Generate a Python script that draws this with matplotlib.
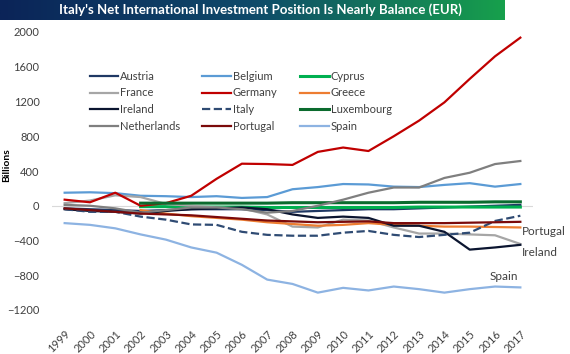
import matplotlib.pyplot as plt
import numpy as np
from matplotlib.colors import LinearSegmentedColormap

plt.rcParams['font.family'] = ['Lato', 'DejaVu Sans']

years = list(range(1999, 2018))
nan = np.nan

austria = [-30, -40, -50, -60, -50, -40, -40, -40, -50, -70, -60, -50, -40, -40, -30, -20, -10, 0, 10]
belgium = [150, 155, 145, 115, 110, 100, 110, 90, 100, 190, 215, 250, 245, 220, 215, 240, 260, 220, 250]
cyprus = [nan, nan, nan, -10, -10, -15, -15, -15, -20, -20, -20, -20, -20, -20, -15, -15, -15, -15, -15]
france = [30, 60, 120, 100, 20, 0, -20, -30, -100, -240, -250, -160, -170, -250, -320, -320, -330, -340, -440]
germany = [70, 40, 150, 0, 30, 115, 310, 484, 480, 470, 620, 670, 630, 800, 980, 1190, 1460, 1720, 1935]
greece = [nan, nan, nan, -50, -90, -120, -140, -160, -190, -210, -230, -220, -200, -220, -230, -240, -240, -245, -250]
ireland = [-40, -60, -70, -90, -60, -40, -30, -20, -40, -100, -140, -125, -140, -230, -230, -300, -505, -480, -450]
italy = [-40, -70, -70, -125, -160, -215, -220, -300, -335, -345, -345, -310, -290, -335, -360, -335, -310, -175, -115]
luxembourg = [nan, nan, nan, 30, 30, 30, 30, 30, 30, 35, 35, 35, 35, 35, 40, 40, 40, 45, 45]
netherlands = [10, 0, -30, -80, -50, -20, -20, -40, -80, -60, 0, 70, 150, 210, 210, 320, 380, 480, 515]
portugal = [-30, -50, -70, -90, -100, -110, -130, -150, -170, -180, -190, -185, -180, -200, -200, -200, -195, -190, -185]
spain = [-200, -220, -260, -330, -390, -480, -540, -680, -850, -900, -1000, -945, -975, -930, -960, -1000, -960, -930, -940]

series = [
    ('Austria', austria, '#1f3864', '-', 1.6),
    ('Belgium', belgium, '#5b9bd5', '-', 1.6),
    ('Cyprus', cyprus, '#00b050', '-', 2.2),
    ('France', france, '#a6a6a6', '-', 1.6),
    ('Germany', germany, '#c00000', '-', 1.6),
    ('Greece', greece, '#ed7d31', '-', 1.6),
    ('Ireland', ireland, '#0b1530', '-', 1.6),
    ('Italy', italy, '#2f4b73', '--', 1.6),
    ('Luxembourg', luxembourg, '#0b6b2e', '-', 2.2),
    ('Netherlands', netherlands, '#7f7f7f', '-', 1.6),
    ('Portugal', portugal, '#7b0a0a', '-', 1.6),
    ('Spain', spain, '#8db3e2', '-', 1.6),
]

fig = plt.figure(figsize=(5.7, 3.54), dpi=100)

# title bar with gradient
tax = fig.add_axes([0, 1 - 20 / 354, 505 / 570, 20 / 354])
cmap = LinearSegmentedColormap.from_list('bar', ['#0b2458', '#0f4a6a', '#17a04c'])
tax.imshow(np.linspace(0, 1, 256).reshape(1, -1), aspect='auto', cmap=cmap, extent=[0, 1, 0, 1])
tax.set_axis_off()
tax.text(0.515, 0.5, "Italy's Net International Investment Position Is Nearly Balance (EUR)",
         color='white', fontsize=9.5, fontweight='bold', ha='center', va='center')

ax = fig.add_axes([52 / 570, 1 - 310 / 354, 481 / 570, 278 / 354])
handles = {}
for name, vals, col, ls, lw in series:
    ln, = ax.plot(years, vals, color=col, linestyle=ls, linewidth=lw, label=name)
    handles[name] = ln

ax.axhline(0, color='#d9d9d9', linewidth=0.8, zorder=0)
ax.set_xlim(1998.5, 2017.5)
ax.set_ylim(-1200, 2000)
ax.set_yticks(range(-1200, 2001, 400))
ax.set_xticks(years)
ax.set_xticklabels([str(y) for y in years], rotation=45, ha='right', rotation_mode='anchor')
ax.tick_params(axis='both', length=0, labelsize=8, colors='#404040')
ax.tick_params(axis='x', pad=13)
ax.tick_params(axis='y', pad=9)
for s in ax.spines.values():
    s.set_visible(False)
ax.set_ylabel('Billions', fontsize=7.5, fontweight='bold')
ax.yaxis.set_label_coords(-0.084, 0.52)

order = ['Austria', 'France', 'Ireland', 'Netherlands',
         'Belgium', 'Germany', 'Italy', 'Portugal',
         'Cyprus', 'Greece', 'Luxembourg', 'Spain']
ax.legend([handles[n] for n in order], order, ncol=3, loc='upper left',
          bbox_to_anchor=(0.078, 0.86), frameon=False, fontsize=8,
          handlelength=2.6, handletextpad=0.15, columnspacing=2.0,
          labelspacing=0.5, borderpad=0, borderaxespad=0, labelcolor='#404040')

ax.text(2017.05, -300, 'Portugal', fontsize=8.5, color='#404040', va='center', ha='left')
ax.text(2017.05, -540, 'Ireland', fontsize=8.5, color='#404040', va='center', ha='left')
ax.text(2016.9, -820, 'Spain', fontsize=8.5, color='#404040', va='center', ha='right')

fig.savefig('out.png', dpi=100)
